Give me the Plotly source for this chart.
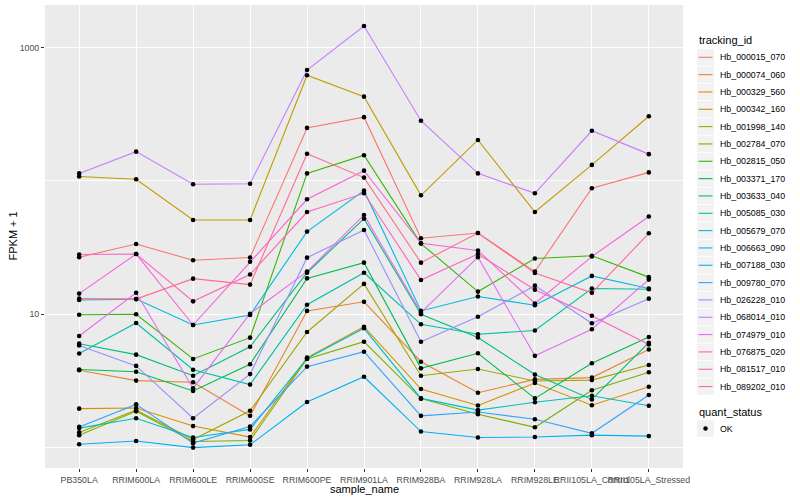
import plotly.graph_objects as go

samples = ["PB350LA", "RRIM600LA", "RRIM600LE", "RRIM600SE", "RRIM600PE", "RRIM901LA",
           "RRIM928BA", "RRIM928LA", "RRIM928LE", "RRII105LA_Control", "RRII105LA_Stressed"]

tracking_ids = ["Hb_000015_070", "Hb_000074_060", "Hb_000329_560", "Hb_000342_160", "Hb_001998_140",
                "Hb_002784_070", "Hb_002815_050", "Hb_003371_170", "Hb_003633_040", "Hb_005085_030",
                "Hb_005679_070", "Hb_006663_090", "Hb_007188_030", "Hb_009780_070", "Hb_026228_010",
                "Hb_068014_010", "Hb_074979_010", "Hb_076875_020", "Hb_081517_010", "Hb_089202_010"]

palette = ["#F8766D", "#EA8331", "#D89000", "#C09B00", "#A3A500", "#7CAE00", "#39B600", "#00BB4E",
           "#00BF7D", "#00C1A3", "#00BFC4", "#00BAE0", "#00B0F6", "#35A2FF", "#9590FF", "#C77CFF",
           "#E76BF3", "#FA62DB", "#FF62BC", "#FF6C91"]

# FPKM + 1 per sample (order of `samples`)
Hb_000015_070 = [26.8, 33.7, 25.4, 26.7, 250, 301, 37.2, 40.7, 20.9, 88.1, 116]
Hb_000074_060 = [3.80, 3.18, 3.09, 1.73, 10.6, 12.4, 4.41, 2.58, 3.25, 3.35, 5.44]
Hb_000329_560 = [1.96, 1.98, 1.45, 1.20, 4.73, 8.07, 2.75, 2.07, 3.05, 2.08, 2.86]
Hb_000342_160 = [108, 103, 51.0, 51.0, 621, 429, 78.1, 203, 58.5, 132, 306]
Hb_001998_140 = [1.30, 1.91, 1.15, 1.89, 7.37, 16.9, 3.46, 3.89, 3.16, 3.21, 4.17]
Hb_002784_070 = [1.24, 1.87, 1.11, 1.13, 4.62, 6.23, 2.33, 1.78, 1.42, 2.69, 3.67]
Hb_002815_050 = [9.93, 10.0, 4.62, 6.68, 114, 156, 33.9, 14.8, 26.2, 27.5, 19.0]
Hb_003371_170 = [3.85, 3.71, 2.66, 4.22, 18.6, 24.4, 3.93, 5.10, 2.34, 4.29, 6.76]
Hb_003633_040 = [6.02, 4.98, 3.46, 5.71, 20.5, 52.1, 10.0, 6.70, 3.53, 2.30, 6.12]
Hb_005085_030 = [5.08, 8.61, 3.84, 2.97, 11.8, 20.5, 8.41, 7.09, 7.56, 15.6, 15.4]
Hb_005679_070 = [1.40, 1.66, 1.19, 1.37, 4.66, 7.85, 2.34, 1.91, 2.19, 2.45, 2.06]
Hb_006663_090 = [12.8, 13.0, 8.31, 9.88, 41.7, 84.6, 10.6, 13.6, 11.7, 19.4, 15.6]
Hb_007188_030 = [1.06, 1.12, 1.00, 1.05, 2.20, 3.40, 1.32, 1.19, 1.20, 1.24, 1.22]
Hb_009780_070 = [1.43, 2.11, 1.08, 1.44, 4.05, 5.24, 1.73, 1.85, 1.63, 1.28, 2.48]
Hb_026228_010 = [5.83, 4.10, 1.66, 3.56, 26.6, 42.9, 6.23, 9.59, 16.4, 8.56, 13.1]
Hb_068014_010 = [114, 166, 94.5, 95.4, 680, 1455, 283, 114, 80.8, 238, 159]
Hb_074979_010 = [6.87, 14.5, 2.79, 10.1, 20.9, 55.6, 10.3, 26.8, 4.88, 7.72, 18.2]
Hb_076875_020 = [14.3, 28.3, 8.31, 24.8, 72.9, 119.5, 34.1, 30.1, 12.05, 27.1, 54.2]
Hb_081517_010 = [28.1, 28.3, 12.5, 19.9, 58.5, 80.8, 18.1, 28.3, 15.3, 9.76, 5.93]
Hb_089202_010 = [13.1, 13.0, 18.5, 16.7, 160, 106, 24.4, 40.7, 20.4, 14.5, 40.5]

series = [Hb_000015_070, Hb_000074_060, Hb_000329_560, Hb_000342_160, Hb_001998_140,
          Hb_002784_070, Hb_002815_050, Hb_003371_170, Hb_003633_040, Hb_005085_030,
          Hb_005679_070, Hb_006663_090, Hb_007188_030, Hb_009780_070, Hb_026228_010,
          Hb_068014_010, Hb_074979_010, Hb_076875_020, Hb_081517_010, Hb_089202_010]

quant_status = ["OK"]

FONT = "Liberation Sans, Arial, Helvetica, sans-serif"

fig = go.Figure()
for tid, col, vals in zip(tracking_ids, palette, series):
    fig.add_trace(go.Scatter(x=samples, y=vals, mode="lines", name=tid,
                             line=dict(color=col, width=1.1), showlegend=False))

all_x = [s for vals in series for s in samples]
all_y = [v for vals in series for v in vals]
fig.add_trace(go.Scatter(x=all_x, y=all_y, mode="markers", name=quant_status[0],
                         marker=dict(color="black", size=4.6), showlegend=False))

# panel geometry in pixels (layout only)
L, R, T, B = 45, 683, 5, 468
def px(xp):
    return (xp - L) / (R - L)
def py(yp):
    return (B - yp) / (B - T)

shapes = []
annotations = []

# axis titles
annotations.append(dict(text="sample_name", x=px(364), y=py(489), xref="paper", yref="paper",
                        xanchor="center", yanchor="middle", showarrow=False,
                        font=dict(size=11, color="black", family=FONT)))
annotations.append(dict(text="FPKM + 1", x=px(12), y=py(236.5), xref="paper", yref="paper",
                        xanchor="center", yanchor="middle", showarrow=False, textangle=-90,
                        font=dict(size=11, color="black", family=FONT)))

# legend: tracking_id
annotations.append(dict(text="tracking_id", x=px(697), y=py(40), xref="paper", yref="paper",
                        xanchor="left", yanchor="middle", showarrow=False,
                        font=dict(size=11, color="black", family=FONT)))
for i, (tid, col) in enumerate(zip(tracking_ids, palette)):
    yc = 57.3 + i * 17.33
    shapes.append(dict(type="rect", xref="paper", yref="paper", x0=px(697), x1=px(714),
                       y0=py(yc + 8.2), y1=py(yc - 8.2), fillcolor="#F2F2F2", line=dict(width=0),
                       layer="below"))
    shapes.append(dict(type="line", xref="paper", yref="paper", x0=px(698.5), x1=px(712.5),
                       y0=py(yc), y1=py(yc), line=dict(color=col, width=1.1)))
    annotations.append(dict(text=tid, x=px(717.5), y=py(yc), xref="paper", yref="paper",
                            xanchor="left", yanchor="middle", showarrow=False,
                            font=dict(size=8.8, color="black", family=FONT)))

# legend: quant_status
annotations.append(dict(text="quant_status", x=px(697), y=py(411.5), xref="paper", yref="paper",
                        xanchor="left", yanchor="middle", showarrow=False,
                        font=dict(size=11, color="black", family=FONT)))
yk = 428.5
shapes.append(dict(type="rect", xref="paper", yref="paper", x0=px(697), x1=px(714),
                   y0=py(yk + 8.2), y1=py(yk - 8.2), fillcolor="#F2F2F2", line=dict(width=0),
                   layer="below"))
shapes.append(dict(type="circle", xref="paper", yref="paper", x0=px(703.3), x1=px(707.7),
                   y0=py(yk + 2.2), y1=py(yk - 2.2), fillcolor="black", line=dict(width=0)))
annotations.append(dict(text=quant_status[0], x=px(717.5), y=py(yk), xref="paper", yref="paper",
                        xanchor="left", yanchor="middle", showarrow=False,
                        font=dict(size=8.8, color="black", family=FONT)))

fig.update_layout(
    width=800, height=500,
    paper_bgcolor="white", plot_bgcolor="#EBEBEB",
    margin=dict(l=L, r=800 - R, t=T, b=500 - B, autoexpand=False),
    font=dict(family=FONT, color="black"),
    showlegend=False,
    shapes=shapes,
    annotations=annotations,
    xaxis=dict(type="category", categoryorder="array", categoryarray=samples,
               range=[-0.6, 10.6], showgrid=True, gridcolor="white", gridwidth=1.1,
               zeroline=False, showline=False, tickangle=0, automargin=False,
               ticks="outside", ticklen=3, tickwidth=1, tickcolor="#333333",
               tickfont=dict(size=8.8, color="#4D4D4D", family=FONT)),
    yaxis=dict(type="log", range=[-0.153, 3.32], automargin=False,
               tickmode="array", tickvals=[10, 1000], ticktext=["10", "1000"],
               showgrid=True, gridcolor="white", gridwidth=1.1, zeroline=False, showline=False,
               ticks="outside", ticklen=3, tickwidth=1, tickcolor="#333333",
               tickfont=dict(size=8.8, color="#4D4D4D", family=FONT),
               minor=dict(tickmode="array", tickvals=[1, 100], showgrid=True, gridcolor="white",
                          gridwidth=0.55, ticklen=0)),
)

fig.write_html("out.html", config={"displayModeBar": False},
               post_script="document.body.style.margin='0px';")
